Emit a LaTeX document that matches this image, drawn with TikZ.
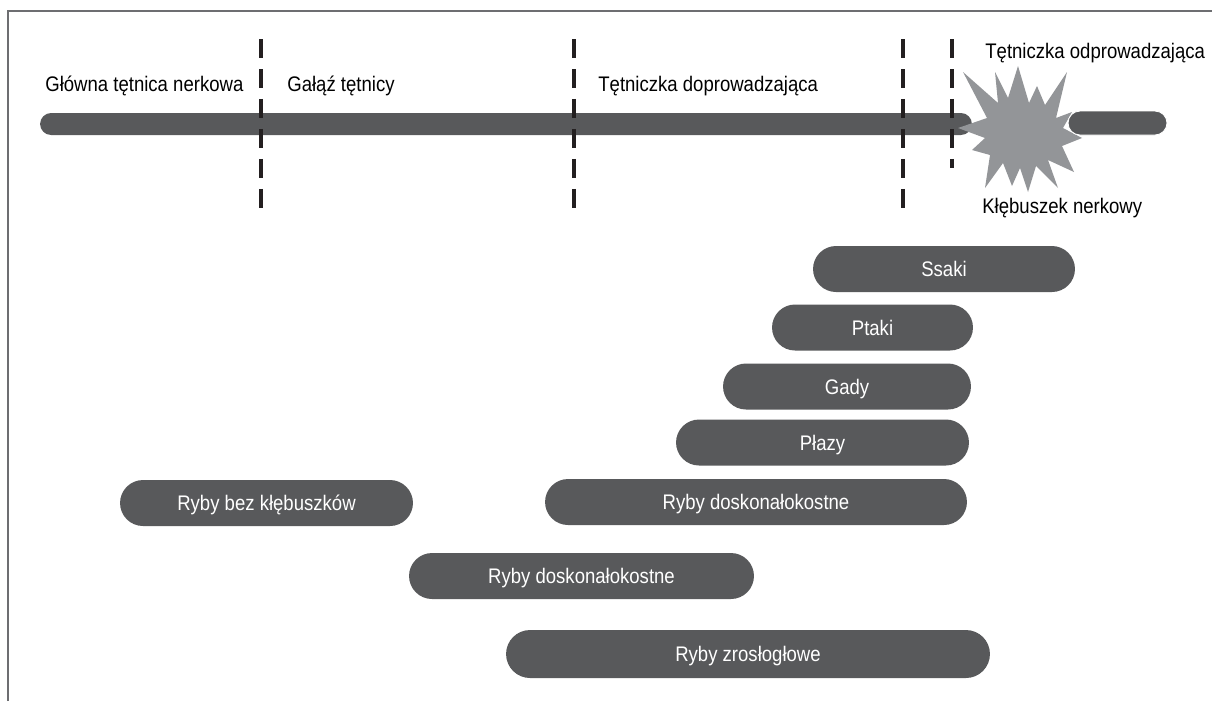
\documentclass[tikz,border=0pt]{standalone}
\usepackage{fontspec}
\usepackage{tikz}
\usetikzlibrary{positioning}
\newfontfamily\labelfont{Liberation Sans}[FakeStretch=0.88]
\definecolor{barfill}{HTML}{58595B}
\definecolor{starfill}{HTML}{939598}
\definecolor{dashink}{HTML}{231F20}
\definecolor{framegray}{HTML}{6D6E71}

\begin{document}
\begin{tikzpicture}[x=0.02cm, y=-0.02cm,
  taxon/.style={rectangle, fill=barfill, rounded corners=0.46cm, text=white,
    font=\labelfont\fontsize{12}{14}\selectfont, minimum height=0.92cm,
    minimum width=#1, text height=8.6pt, text depth=0pt, inner sep=0pt},
  vessel/.style={rectangle, fill=barfill, rounded corners=0.22cm,
    minimum height=0.44cm, minimum width=#1, inner sep=0pt},
  region/.style={font=\labelfont\fontsize{12}{14}\selectfont, anchor=base west, inner sep=0pt},
  border/.style={dashink, line width=0.08cm, dash pattern=on 0.38cm off 0.22cm},
]
  \useasboundingbox (0,0) rectangle (1212,701);
  % frame
  \draw[framegray, line width=0.04cm] (8,701) -- (8,11) -- (1212,11);

  % artery
  \node[vessel=18.64cm] (artery) at (506,124) {};
  \fill[starfill] (1018,66) -- (1029,103) -- (1037,86) -- (1045,105) -- (1067,72)
    -- (1056,118) -- (1072,112) -- (1063,128) -- (1082,138) -- (1062,146)
    -- (1074,172) -- (1048,160) -- (1058,188) -- (1036,166) -- (1028,192)
    -- (1020,168) -- (1012,186) -- (1003,163) -- (985,188) -- (990,155)
    -- (972,150) -- (985,138) -- (958,128) -- (987,118) -- (963,72)
    -- (998,103) -- (995,72) -- (1008,98) -- cycle;
  \coordinate (glom) at (1020,128);
  \node[vessel=1.98cm, minimum height=0.48cm, rounded corners=0.24cm,
    draw=white, line width=0.5pt] (efferent) at (1117.5,123) {};

  % boundaries
  \foreach \bx/\name in {261/b1, 574/b2, 903/b3} {
    \coordinate (\name top) at (\bx,39);
    \coordinate (\name bot) at (\bx,208);
    \draw[border] (\name top) -- (\name bot);
  }
  \coordinate (b4top) at (952,39);
  \coordinate (b4bot) at (952,168);
  \draw[border] (b4top) -- (b4bot);

  % segment labels
  \node[region] (main) at (45,91) {Główna tętnica nerkowa};
  \node[region] (branch) at (287,91) {Gałąź tętnicy};
  \node[region] (afferent) at (598,91) {Tętniczka doprowadzająca};
  \node[region] (efflabel) at (985,58) {Tętniczka odprowadzająca};
  \node[region] (glomlabel) at (982,213) {Kłębuszek nerkowy};

  % groups
  \node[taxon=5.24cm] (ssaki) at (944,269) {Ssaki};
  \node[taxon=4.02cm] (ptaki) at (872.5,327.5) {Ptaki};
  \node[taxon=4.96cm] (gady) at (847,386.5) {Gady};
  \node[taxon=5.86cm] (plazy) at (822.5,442.5) {Płazy};
  \node[taxon=8.44cm] (teleo) at (756,502) {Ryby doskonałokostne};
  \node[taxon=5.86cm] (aglom) at (266.5,503) {Ryby bez kłębuszków};
  \node[taxon=6.90cm] (teleolow) at (581.5,576) {Ryby doskonałokostne};
  \node[taxon=9.68cm, minimum height=0.96cm, rounded corners=0.48cm] (holo) at (748,654) {Ryby zrosłogłowe};
\end{tikzpicture}
\end{document}
